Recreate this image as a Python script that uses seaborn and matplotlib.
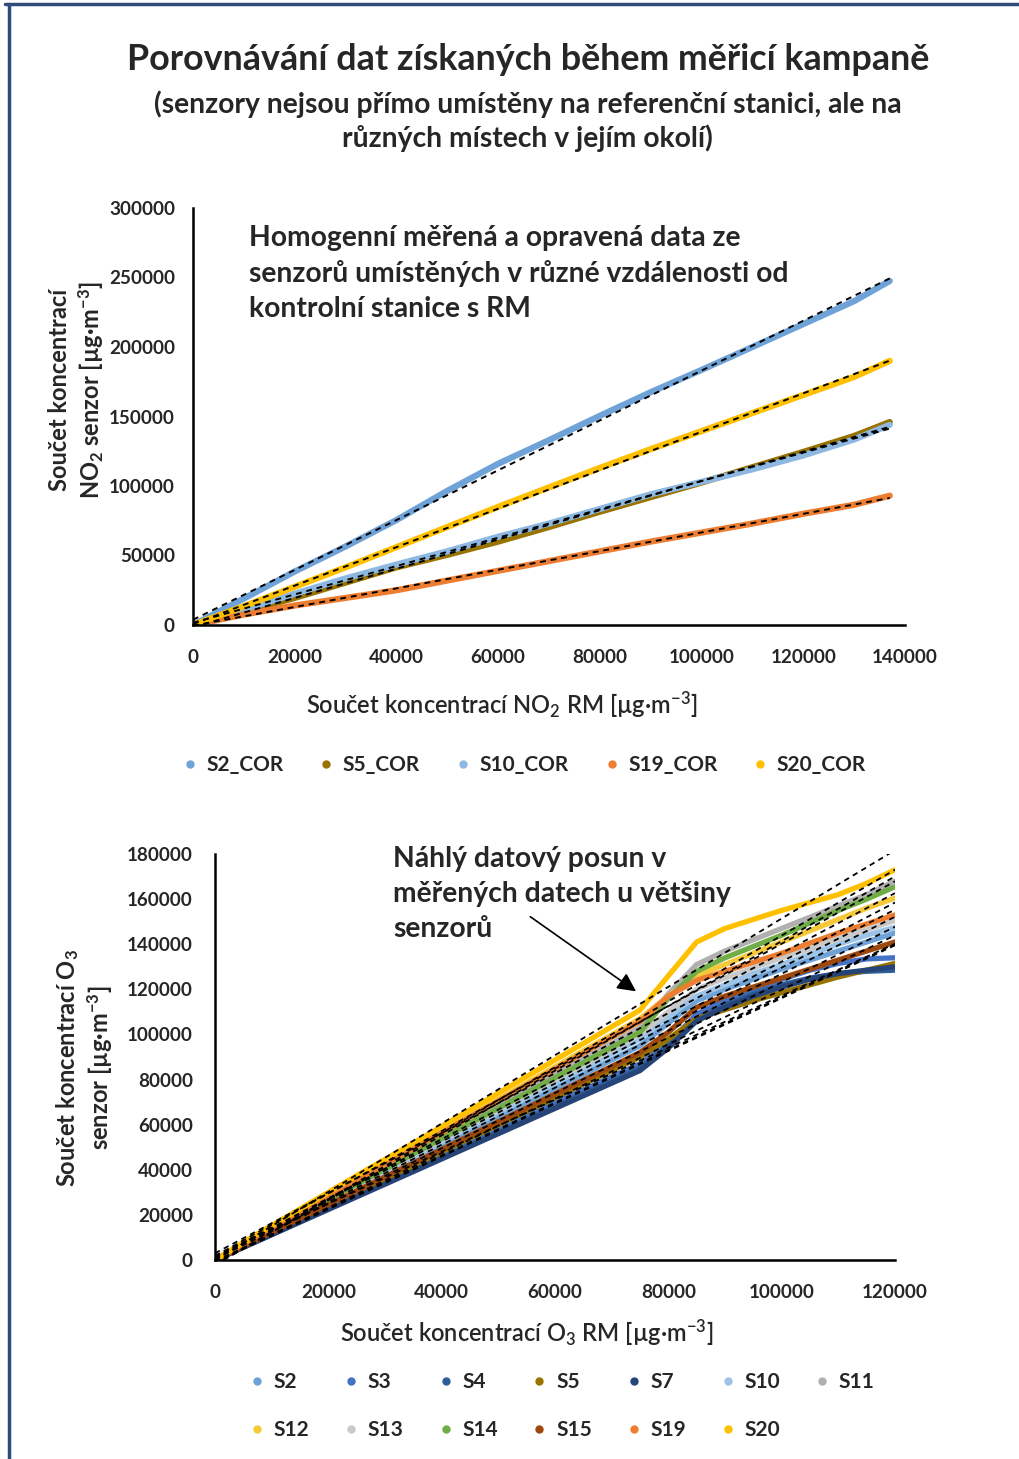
import numpy as np
import pandas as pd
import seaborn as sns
import matplotlib.pyplot as plt
from matplotlib.lines import Line2D

# Cumulative sums of NO2 concentration: reference monitor (x) vs corrected sensors (y)
no2_rm = [0, 10000, 20000, 30000, 40000, 50000, 60000, 70000, 80000, 90000,
          100000, 110000, 120000, 130000, 137000]
no2_sensors = ["S2_COR", "S5_COR", "S10_COR", "S19_COR", "S20_COR"]
s2_cor = [0, 19000, 38500, 56500, 75500, 96500, 116000, 133000, 150500, 167500,
          183500, 200000, 216500, 233000, 247500]
s5_cor = [0, 9500, 19500, 30500, 41500, 50500, 60000, 70500, 81500, 92000,
          102500, 113500, 124500, 136000, 146000]
s10_cor = [0, 11000, 22500, 33500, 43500, 53000, 63500, 73000, 83500, 94000,
           103000, 112000, 122000, 133500, 144000]
s19_cor = [0, 7500, 14000, 19500, 25000, 32000, 39000, 46000, 53000, 60000,
           66500, 73000, 80000, 86500, 93000]
s20_cor = [0, 13500, 27500, 41500, 56000, 70500, 85000, 99000, 113000, 126500,
           139500, 152500, 165500, 178500, 190000]
no2_colors = ["#6FA3D8", "#997300", "#8DB8E2", "#ED7D31", "#FFC000"]

# Cumulative sums of O3 concentration: reference monitor (x) vs raw sensors (y)
o3_rm = [0, 5000, 10000, 15000, 20000, 25000, 30000, 35000, 40000, 45000, 50000,
         55000, 60000, 65000, 70000, 75000, 80000, 85000, 90000, 95000, 100000,
         105000, 110000, 115000, 120000]
o3_sensors = ["S2", "S3", "S4", "S5", "S7", "S10", "S11",
              "S12", "S13", "S14", "S15", "S19", "S20"]
o3_values = {
    "S2": [0, 6300, 12700, 19000, 25300, 31600, 38000, 44300, 50700, 57000, 63300, 69600, 76000,
           82300, 88700, 95000, 105000, 115000, 120000, 124500, 129000, 133000, 137000, 141000, 145000],
    "S3": [0, 5800, 11600, 17400, 23200, 29000, 34800, 40600, 46400, 52200, 58000, 63800, 69600,
           75400, 81200, 87000, 96000, 109000, 115000, 120000, 124500, 128500, 131500, 133500, 134000],
    "S4": [0, 5700, 11300, 17000, 22700, 28300, 34000, 39700, 45300, 51000, 56700, 62300, 68000,
           73700, 79300, 85000, 95000, 107000, 113000, 118000, 122000, 125000, 127000, 128000, 128500],
    "S5": [0, 6000, 12000, 18000, 24000, 30000, 36000, 42000, 48000, 54000, 60000, 66000, 72000,
           78000, 84000, 90000, 98000, 107000, 111000, 115000, 118500, 122000, 125500, 128500, 131500],
    "S7": [0, 5600, 11200, 16800, 22400, 28000, 33600, 39200, 44800, 50400, 56000, 61600, 67200,
           72800, 78400, 84000, 94000, 106000, 112000, 117000, 121000, 124500, 127000, 128500, 130000],
    "S10": [0, 6500, 13000, 19600, 26100, 32600, 39200, 45700, 52300, 58800, 65400, 71900, 78400,
            84900, 91500, 98000, 108000, 117000, 122000, 127000, 131000, 135500, 140000, 144000, 147500],
    "S11": [0, 6800, 13700, 20600, 27400, 34300, 41100, 47900, 54800, 61700, 68600, 75500, 82300,
            89100, 96000, 103000, 118000, 131000, 137000, 142000, 147000, 152000, 157000, 162000, 168000],
    "S12": [0, 7300, 14400, 21400, 28500, 35700, 42900, 50000, 57100, 64200, 71300, 78400, 85600,
            92800, 99800, 107000, 117000, 126000, 131000, 136000, 141000, 146000, 151000, 156000, 160500],
    "S13": [0, 6600, 13300, 19900, 26600, 33300, 40000, 46600, 53300, 60000, 66600, 73300, 80000,
            86600, 93300, 100000, 110000, 120000, 125000, 129500, 134000, 138000, 142500, 146500, 150500],
    "S14": [0, 6700, 13500, 20200, 26900, 33600, 40300, 47100, 53800, 60600, 67300, 74000, 80800,
            87500, 94200, 101000, 116000, 128000, 134000, 139000, 144000, 149500, 155000, 160000, 165500],
    "S15": [0, 6100, 12300, 18400, 24500, 30600, 36800, 42900, 49000, 55200, 61300, 67400, 73600,
            79700, 85800, 92000, 101000, 112000, 117000, 121000, 125000, 129000, 133000, 137000, 141000],
    "S19": [0, 7100, 14100, 21100, 28100, 35200, 42300, 49400, 56400, 63500, 70500, 77600, 84700,
            91700, 98800, 105800, 117000, 124000, 128000, 132000, 136000, 140500, 145000, 149000, 153000],
    "S20": [0, 7800, 15300, 22600, 30000, 37400, 44600, 51800, 59200, 66500, 74000, 81300, 88700,
            96000, 103400, 110800, 126000, 141000, 147000, 151000, 155000, 158500, 162000, 167000, 173000],
}
o3_colors = ["#6FA3D8", "#4472C4", "#2E5E9A", "#997300", "#264478", "#9DC3E6", "#B0B0B0",
             "#F7C93A", "#C9C9C9", "#70AD47", "#9E480E", "#ED7D31", "#FFC000"]

sns.set_theme(style="white")
plt.rcParams["font.family"] = ["Lato", "DejaVu Sans"]
plt.rcParams["mathtext.default"] = "regular"

fig = plt.figure(figsize=(10.19, 14.59), dpi=100)
fig.patch.set_facecolor("white")

# frame of the slide (top and left edge visible)
fig.add_artist(Line2D([0.005, 1.0], [1 - 4 / 1459] * 2, transform=fig.transFigure,
                      color="#2F4B7C", lw=2.5))
fig.add_artist(Line2D([9 / 1019] * 2, [0, 1 - 4 / 1459], transform=fig.transFigure,
                      color="#2F4B7C", lw=2.5))

fig.text(0.518, 1 - 60 / 1459, "Porovnávání dat získaných během měřicí kampaně",
         ha="center", va="center", fontsize=25.8, weight="bold")
fig.text(0.518, 1 - 121 / 1459,
         "(senzory nejsou přímo umístěny na referenční stanici, ale na\nrůzných místech v jejím okolí)",
         ha="center", va="center", fontsize=20.3, weight="bold", linespacing=1.3)

dash = (0, (3, 2.5))


def style_axes(ax, xlim, ylim, xstep, ystep):
    ax.set_xlim(*xlim)
    ax.set_ylim(*ylim)
    ax.set_xticks(np.arange(xlim[0], xlim[1] + 1, xstep))
    ax.set_yticks(np.arange(ylim[0], ylim[1] + 1, ystep))
    sns.despine(ax=ax)
    for s in ["left", "bottom"]:
        ax.spines[s].set_color("black")
        ax.spines[s].set_linewidth(1.8)
    ax.tick_params(length=0, labelsize=13.6, pad=13)
    ax.tick_params(axis="x", pad=17)
    for lab in ax.get_xticklabels() + ax.get_yticklabels():
        lab.set_fontweight("bold")
    ax.grid(False)
    ax.set_facecolor("white")


# ---- NO2 panel ----
ax1 = fig.add_axes([193 / 1019, 1 - 625 / 1459, 712 / 1019, 417 / 1459])
no2_df = pd.DataFrame({
    "rm": no2_rm * len(no2_sensors),
    "val": s2_cor + s5_cor + s10_cor + s19_cor + s20_cor,
    "sensor": np.repeat(no2_sensors, len(no2_rm)),
})
sns.lineplot(data=no2_df, x="rm", y="val", hue="sensor", hue_order=no2_sensors,
             palette=dict(zip(no2_sensors, no2_colors)), estimator=None,
             lw=4.5, legend=False, ax=ax1)
# linear trend line for every sensor
for name in no2_sensors:
    sub = no2_df[no2_df["sensor"] == name]
    sns.regplot(x=sub["rm"].to_numpy(), y=sub["val"].to_numpy(), scatter=False, ci=None,
                color="black", line_kws=dict(ls=dash, lw=1.4), ax=ax1)
style_axes(ax1, (0, 140000), (0, 300000), 20000, 50000)
ax1.set_xlabel("Součet koncentrací NO$_2$ RM [µg·m$^{-3}$]", fontsize=17, weight="semibold")
ax1.xaxis.set_label_coords(0.434, -0.192)
ax1.xaxis.label.set_va("center")
ax1.set_ylabel("Součet koncentrací\nNO$_2$ senzor [µg·m$^{-3}$]", fontsize=17,
               weight="bold", multialignment="center")
ax1.yaxis.set_label_coords(-0.163, 0.564)
ax1.yaxis.label.set_va("center")
ax1.text(0.078, 0.844,
         "Homogenní měřená a opravená data ze\nsenzorů umístěných v různé vzdálenosti od\nkontrolní stanice s RM",
         transform=ax1.transAxes, ha="left", va="center", fontsize=20.3, weight="bold",
         linespacing=1.42)

h1 = [Line2D([], [], ls="", marker="o", markersize=5, color=c) for c in no2_colors]
fig.legend(h1, no2_sensors, loc="center", bbox_to_anchor=(0.515, 1 - 765 / 1459), ncol=5,
           frameon=False, handlelength=0.6, handletextpad=0.5, columnspacing=1.75,
           prop=dict(size=15, weight="bold"))

# ---- O3 panel ----
ax2 = fig.add_axes([215 / 1019, 1 - 1260 / 1459, 680 / 1019, 406 / 1459])
o3_df = pd.DataFrame({
    "rm": o3_rm * len(o3_sensors),
    "val": sum((o3_values[s] for s in o3_sensors), []),
    "sensor": np.repeat(o3_sensors, len(o3_rm)),
})
sns.lineplot(data=o3_df, x="rm", y="val", hue="sensor", hue_order=o3_sensors,
             palette=dict(zip(o3_sensors, o3_colors)), estimator=None,
             lw=3.8, legend=False, ax=ax2)
for name in o3_sensors:
    sub = o3_df[o3_df["sensor"] == name]
    sns.regplot(x=sub["rm"].to_numpy(), y=sub["val"].to_numpy(), scatter=False, ci=None,
                color="black", line_kws=dict(ls=dash, lw=1.3), ax=ax2)
style_axes(ax2, (0, 120000), (0, 180000), 20000, 20000)
ax2.tick_params(axis="y", pad=16)
ax2.set_xlabel("Součet koncentrací O$_3$ RM [µg·m$^{-3}$]", fontsize=17, weight="semibold")
ax2.xaxis.set_label_coords(0.459, -0.18)
ax2.xaxis.label.set_va("center")
ax2.set_ylabel("Součet koncentrací O$_3$\nsenzor [µg·m$^{-3}$]", fontsize=17,
               weight="bold", multialignment="center")
ax2.yaxis.set_label_coords(-0.192, 0.473)
ax2.yaxis.label.set_va("center")
ax2.text(0.262, 0.901, "Náhlý datový posun v\nměřených datech u většiny\nsenzorů",
         transform=ax2.transAxes, ha="left", va="center", fontsize=20.3, weight="bold",
         linespacing=1.42)
ax2.annotate("", xy=(74700, 118400), xytext=(55250, 152900),
             arrowprops=dict(arrowstyle="-|>", color="black", lw=1.2, mutation_scale=28))

# legend filled column-wise, so interleave the two rows
order = [0, 7, 1, 8, 2, 9, 3, 10, 4, 11, 5, 12, 6]
h2 = [Line2D([], [], ls="", marker="o", markersize=5, color=o3_colors[i]) for i in order]
fig.legend(h2, [o3_sensors[i] for i in order], loc="center",
           bbox_to_anchor=(0.552, 1 - 1406 / 1459), ncol=7, frameon=False,
           handlelength=0.6, handletextpad=0.5, columnspacing=1.7, labelspacing=1.35,
           prop=dict(size=15, weight="bold"))

fig.savefig("out.png", dpi=100, facecolor="white")
